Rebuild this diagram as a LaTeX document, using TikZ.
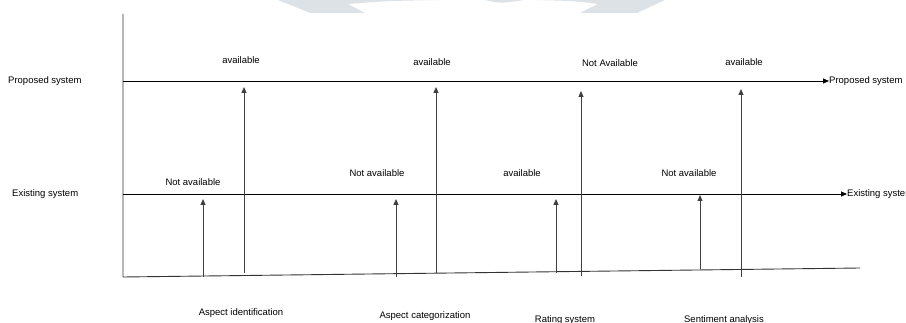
\documentclass[tikz,border=0pt]{standalone}
\usepackage{fontspec}
\setmainfont{Liberation Sans}
\usetikzlibrary{arrows.meta}
\definecolor{wmgray}{RGB}{221,226,230}
\begin{document}
\begin{tikzpicture}[x=1pt,y=-1pt]
    \tikzstyle{lbl}=[font=\fontsize{9.5}{11}\selectfont, inner sep=0pt]
    \tikzstyle{axis}=[draw=black!80, line width=0.9pt]
    \tikzstyle{sysline}=[draw=black, line width=0.9pt, -{Triangle[length=6pt,width=5pt]}]
    \tikzstyle{feat}=[draw=black!75, line width=1pt, -{Triangle[length=6pt,width=5pt]}]
    \useasboundingbox (0,0) rectangle (906,323);

    % faint mark at the top
    \fill[wmgray] (278,0) -- (310,13) -- (365,13) -- (348,4) .. controls (385,1) .. (440,0) -- cycle;
    \fill[wmgray] (485,0) .. controls (500,3.5) .. (525,0) -- cycle;
    \fill[wmgray] (665,0) -- (637,13) -- (580,13) -- (598,4) .. controls (575,1) .. (535,0) -- cycle;

    % axes
    \coordinate (top) at (123,14);
    \coordinate (o)   at (123,277);
    \coordinate (end) at (860,268);
    \draw[axis] (top) -- (o) -- (end);

    % system lines
    \node[lbl, anchor=west] (prop)  at (8,81)   {Proposed system};
    \node[lbl, anchor=west] (exist) at (12,194) {Existing system};
    \node[lbl, anchor=west] (propR)  at (829,81)  {Proposed system};
    \node[lbl, anchor=west] (existR) at (847,194) {Existing system};
    \coordinate (p0) at (123,81);
    \coordinate (e0) at (123,194);
    \draw[sysline] (p0) -- (propR.west);
    \draw[sysline] (e0) -- (existR.west);

    % aspect identification
    \coordinate (a1) at (203,277);  \coordinate (t1) at (203,199);
    \coordinate (a2) at (244,273);  \coordinate (t2) at (244,87);
    \draw[feat] (a1) -- (t1);
    \draw[feat] (a2) -- (t2);
    \node[lbl] (n1) at (193,182) {Not available};
    \node[lbl] (n2) at (241,60)  {available};
    \node[lbl] (f1) at (241,313) {Aspect identification};

    % aspect categorization
    \coordinate (a3) at (396,277);  \coordinate (t3) at (396,199);
    \coordinate (a4) at (436,273);  \coordinate (t4) at (436,87);
    \draw[feat] (a3) -- (t3);
    \draw[feat] (a4) -- (t4);
    \node[lbl] (n3) at (377,173) {Not available};
    \node[lbl] (n4) at (432,62)  {available};
    \node[lbl] (f2) at (425,316) {Aspect categorization};

    % rating system
    \coordinate (a5) at (556,273);  \coordinate (t5) at (556,199);
    \coordinate (a6) at (581,276);  \coordinate (t6) at (581,91);
    \draw[feat] (a5) -- (t5);
    \draw[feat] (a6) -- (t6);
    \node[lbl] (n5) at (522,173) {available};
    \node[lbl] (n6) at (610,63)  {Not Available};
    \node[lbl] (f3) at (565,320) {Rating system};

    % sentiment analysis
    \coordinate (a7) at (700,269);  \coordinate (t7) at (700,195);
    \coordinate (a8) at (741,277);  \coordinate (t8) at (741,89);
    \draw[feat] (a7) -- (t7);
    \draw[feat] (a8) -- (t8);
    \node[lbl] (n7) at (689,173) {Not available};
    \node[lbl] (n8) at (744,62)  {available};
    \node[lbl] (f4) at (724,320) {Sentiment analysis};

\end{tikzpicture}
\end{document}
